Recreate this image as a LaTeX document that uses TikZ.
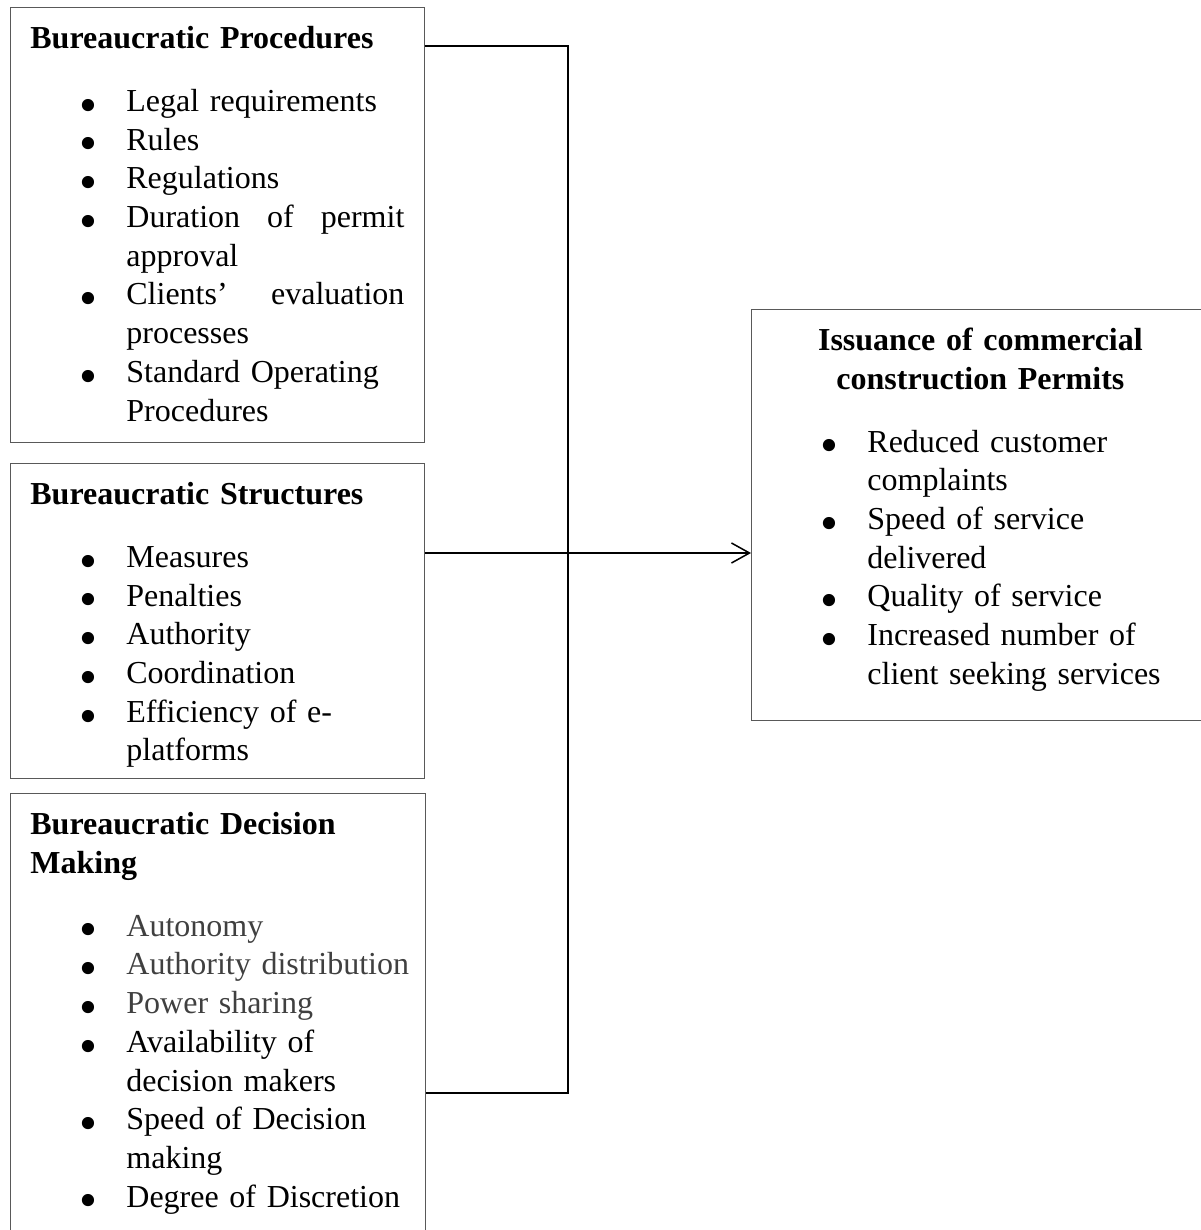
\documentclass[tikz,border=0pt]{standalone}
\usepackage{fontspec}
\setmainfont{Liberation Serif}
\usepackage{graphicx}
\usetikzlibrary{positioning,arrows.meta}
\definecolor{framegrey}{HTML}{595959}
\definecolor{textgrey}{HTML}{404040}
\newcommand{\bul}{\raisebox{-5.4pt}{\scalebox{1.6}{\textbullet}}}
\newcommand{\bitem}[1]{\par\noindent\hangindent=48pt\hangafter=1\hspace*{24.5pt}\makebox[23.5pt][l]{\bul}#1}
\newcommand{\btitle}[1]{\noindent\strut\textbf{#1}\par\vspace{12.15pt}}
\newcommand{\spread}[1]{\makebox[139pt][l]{#1}}
\tikzset{
  panel/.style={draw=framegrey,line width=.5pt,anchor=north west,inner sep=0pt},
  boxtext/.style={inner sep=0pt,text width=200pt,align=left,font=\fontsize{16}{19.35}\selectfont},
  link/.style={line width=.75pt}
}
\begin{document}
\begin{tikzpicture}[x=.5pt,y=-.5pt]
\useasboundingbox (0,0) rectangle (1200,1230);
% boxes
\node[panel,minimum width=207pt,minimum height=217.5pt] (proc) at (10,7) {};
\node[panel,minimum width=207pt,minimum height=157.5pt] (struct) at (10,463) {};
\node[panel,minimum width=207.5pt,minimum height=230pt] (dec) at (10,793) {};
\node[panel,minimum width=230pt,minimum height=205.5pt] (permit) at (751,309) {};
% box contents
\node[boxtext,below right=7pt and 10pt of proc.north west] (proctext) {\btitle{Bureaucratic Procedures}%
\bitem{Legal requirements}\bitem{Rules}\bitem{Regulations}%
\bitem{\spread{Duration\hfill of\hfill permit}\newline approval}%
\bitem{\spread{Clients’\hfill evaluation}\newline processes}%
\bitem{Standard Operating\newline Procedures}\par};
\node[boxtext,below right=7pt and 10pt of struct.north west] (structtext) {\btitle{Bureaucratic Structures}%
\bitem{Measures}\bitem{Penalties}\bitem{Authority}\bitem{Coordination}%
\bitem{Efficiency of e-\newline platforms}\par};
\node[boxtext,below right=7pt and 10pt of dec.north west] (dectext) {\btitle{Bureaucratic Decision\newline Making}%
\bitem{\textcolor{textgrey}{Autonomy}}\bitem{\textcolor{textgrey}{Authority distribution}}%
\bitem{\textcolor{textgrey}{Power sharing}}\bitem{Availability of\newline decision makers}%
\bitem{Speed of Decision\newline making}\bitem{Degree of Discretion}\par};
\node[boxtext,text width=209pt,below right=7pt and 10pt of permit.north west] (permittext) {{\centering\strut\textbf{Issuance of commercial}\par\textbf{construction Permits}\par}\vspace{12.15pt}%
\bitem{Reduced customer\newline complaints}\bitem{Speed of service\newline delivered}%
\bitem{Quality of service}\bitem{Increased number of\newline client seeking services}\par};
% connectors
\coordinate (bustop) at (568,46); \coordinate (busmid) at (568,553); \coordinate (busbot) at (568,1093);
\draw[link] (proc.east |- bustop) -- (bustop) -- (busbot) -- (dec.east |- busbot);
\draw[link] (struct.east |- busmid) -- (busmid);
\draw[link,-{Straight Barb[length=9pt,width=10pt]}] (busmid) -- (busmid -| permit.west);
\end{tikzpicture}
\end{document}
